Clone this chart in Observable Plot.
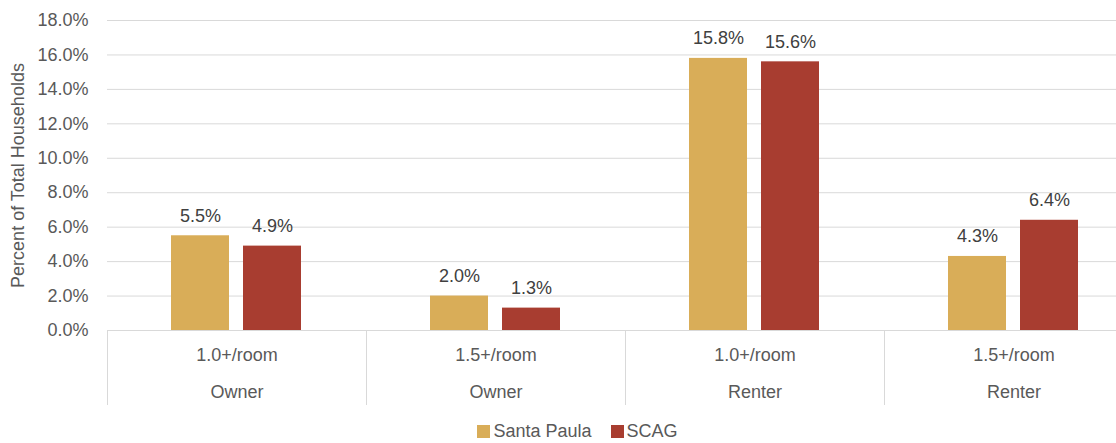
<!DOCTYPE html>
<html>
<head>
<meta charset="utf-8">
<script src="https://cdn.jsdelivr.net/npm/d3@7"></script>
<script src="https://cdn.jsdelivr.net/npm/@observablehq/plot@0.6"></script>
<style>
  html, body { margin: 0; padding: 0; background: #fff; }
  #wrap { width: 1116px; }
  #legend { display: flex; justify-content: center; width: 1116px; box-sizing: border-box; padding-left: 58px; }
  .lg-swatch > svg { margin-right: 3px !important; }
  .lg-swatch { margin-right: 19px !important; }
</style>
</head>
<body>
<div id="wrap"></div>
<div id="legend"></div>
<script>
// ---- data ----
const tenure = ["Owner", "Owner", "Renter", "Renter"];
const crowding = ["1.0+/room", "1.5+/room", "1.0+/room", "1.5+/room"];
const series = ["Santa Paula", "SCAG"];
const santaPaula = [5.5, 2.0, 15.8, 4.3];
const scag = [4.9, 1.3, 15.6, 6.4];
const yTicks = [0, 2, 4, 6, 8, 10, 12, 14, 16, 18];
const colors = ["#D9AD58", "#A83D30"];
const yLabel = "Percent of Total Households";

const fmt = d => d.toFixed(1) + "%";
const groups = tenure.map((t, i) => ({g: i, tenure: t, crowding: crowding[i]}));
const rows = groups.flatMap(({g}) => [
  {g, series: series[0], value: santaPaula[g]},
  {g, series: series[1], value: scag[g]}
]);

const font = "Liberation Sans, Arial, sans-serif";

const chart = Plot.plot({
  width: 1116,
  height: 415,
  marginLeft: 106,
  marginRight: -28,
  marginTop: 20,
  marginBottom: 85,
  style: {fontFamily: font, fontSize: "18px", color: "#595959", background: "white", overflow: "hidden"},
  fx: {domain: groups.map(d => d.g), padding: 0, axis: null},
  x: {domain: series, paddingInner: 0.192, paddingOuter: 0.873, axis: null},
  y: {domain: [0, 18], axis: null},
  color: {domain: series, range: colors},
  marks: [
    Plot.gridY(yTicks, {stroke: "#d9d9d9", strokeOpacity: 1}),
    Plot.frame({anchor: "left", stroke: "#d9d9d9", strokeOpacity: 1, insetTop: 310, insetBottom: -74}),
    Plot.barY(rows, {fx: "g", x: "series", y: "value", fill: "series"}),
    Plot.text(rows, {fx: "g", x: "series", y: "value", text: d => fmt(d.value),
      lineAnchor: "bottom", dy: -14, fill: "#404040", fontSize: 18}),
    Plot.text(groups, {fx: "g", text: "crowding", frameAnchor: "bottom",
      lineAnchor: "bottom", dy: 30, fill: "#595959", fontSize: 18}),
    Plot.text(groups, {fx: "g", text: "tenure", frameAnchor: "bottom",
      lineAnchor: "bottom", dy: 67, fill: "#595959", fontSize: 18}),
    Plot.axisY(yTicks, {tickSize: 0, tickPadding: 19, tickFormat: fmt, label: null,
      fontSize: 18, fill: "#595959"}),
    Plot.axisY([], {label: yLabel, labelAnchor: "center", labelArrow: "none",
      labelOffset: 96, fontSize: 18, fill: "#595959", tickSize: 0})
  ]
});
document.getElementById("wrap").appendChild(chart);

const legend = Plot.legend({
  color: {type: "ordinal", domain: series, range: colors},
  swatchWidth: 13,
  swatchHeight: 13,
  className: "lg",
  style: {fontFamily: font, fontSize: "18px", color: "#595959"}
});
document.getElementById("legend").appendChild(legend);
</script>
</body>
</html>
